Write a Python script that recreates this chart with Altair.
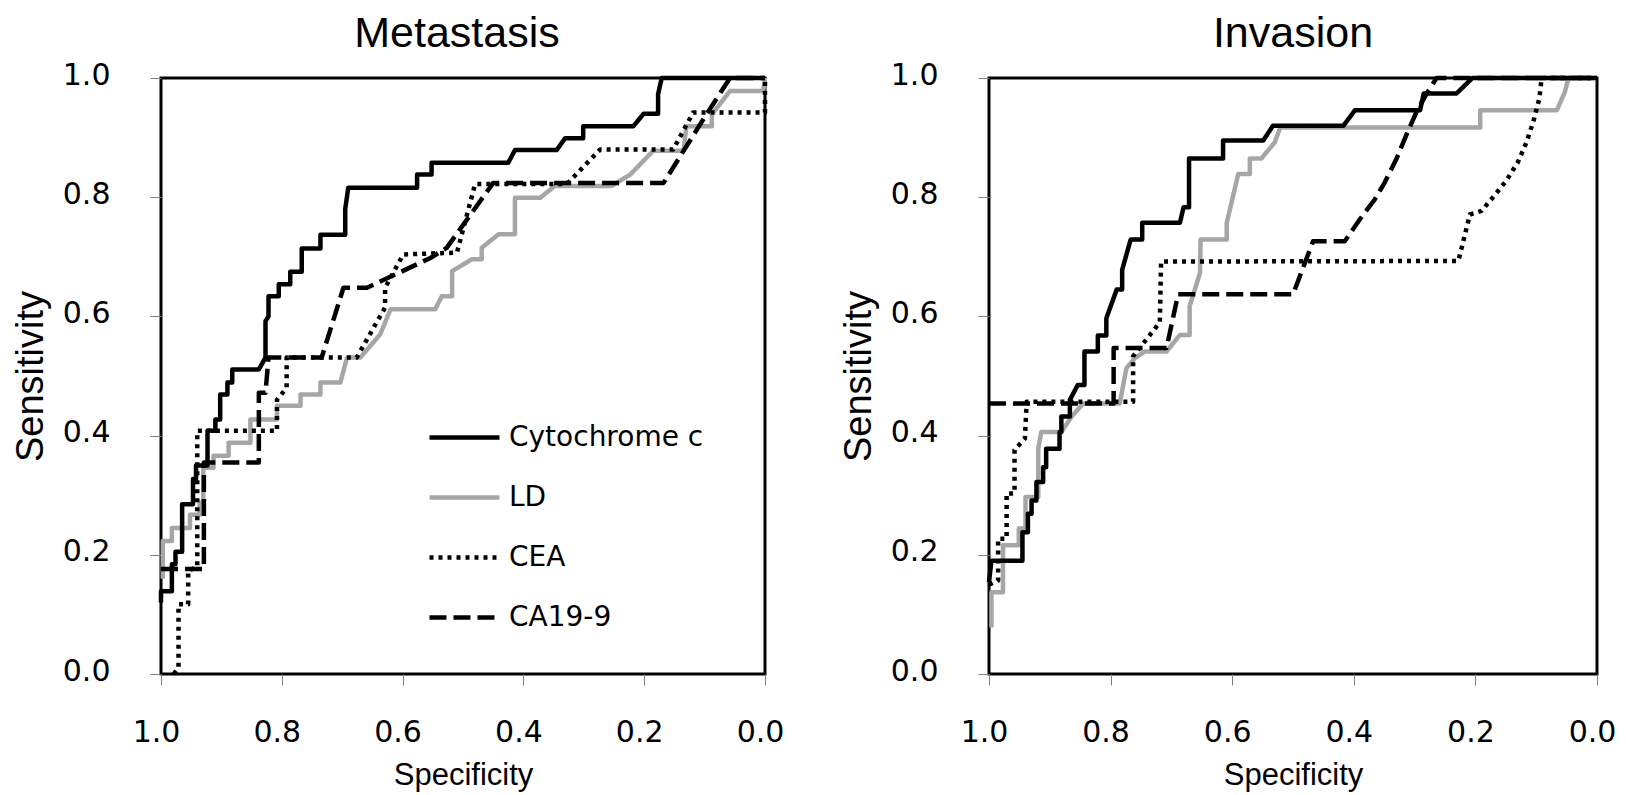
import altair as alt
import pandas as pd

series_names = ["Cytochrome c", "LD", "CEA", "CA19-9"]
draw_order = ["LD", "CA19-9", "CEA", "Cytochrome c"]
tick_values = [0.0, 0.2, 0.4, 0.6, 0.8, 1.0]

# ---------------- Metastasis ----------------
met_cyto_spec = [1.000, 1.000, 0.982, 0.982, 0.976, 0.976, 0.965, 0.965, 0.947, 0.947, 0.942, 0.942, 0.923, 0.923,
                 0.910, 0.910, 0.902, 0.902, 0.890, 0.890, 0.882, 0.882, 0.838, 0.827, 0.827, 0.822, 0.822, 0.805,
                 0.805, 0.786, 0.786, 0.767, 0.767, 0.736, 0.736, 0.695, 0.695, 0.690, 0.576, 0.576, 0.552, 0.552,
                 0.425, 0.414, 0.345, 0.331, 0.301, 0.301, 0.218, 0.201, 0.177, 0.177, 0.171, 0.000]
met_cyto_sens = [0.120, 0.139, 0.139, 0.184, 0.184, 0.205, 0.205, 0.285, 0.285, 0.327, 0.327, 0.350, 0.350, 0.408,
                 0.408, 0.427, 0.427, 0.469, 0.469, 0.489, 0.489, 0.511, 0.511, 0.531, 0.592, 0.600, 0.634, 0.634,
                 0.654, 0.654, 0.675, 0.675, 0.714, 0.714, 0.737, 0.737, 0.780, 0.816, 0.816, 0.838, 0.838, 0.858,
                 0.858, 0.879, 0.879, 0.899, 0.899, 0.919, 0.919, 0.940, 0.940, 0.973, 1.000, 1.000]

met_ld_spec = [0.997, 0.997, 0.982, 0.982, 0.952, 0.952, 0.936, 0.936, 0.930, 0.930, 0.913, 0.913, 0.888, 0.888,
               0.852, 0.852, 0.808, 0.808, 0.769, 0.769, 0.736, 0.736, 0.703, 0.692, 0.670, 0.637, 0.620, 0.546,
               0.535, 0.518, 0.518, 0.485, 0.469, 0.469, 0.441, 0.414, 0.414, 0.372, 0.348, 0.254, 0.223, 0.185,
               0.135, 0.130, 0.088, 0.088, 0.058, 0.003, 0.000]
met_ld_sens = [0.160, 0.223, 0.223, 0.245, 0.245, 0.267, 0.267, 0.287, 0.287, 0.346, 0.346, 0.366, 0.366, 0.388,
               0.388, 0.427, 0.427, 0.450, 0.450, 0.469, 0.469, 0.489, 0.489, 0.531, 0.531, 0.570, 0.612, 0.612,
               0.634, 0.634, 0.676, 0.696, 0.696, 0.715, 0.738, 0.738, 0.799, 0.799, 0.819, 0.819, 0.838, 0.878,
               0.878, 0.919, 0.919, 0.939, 0.978, 0.978, 1.000]

met_cea_spec = [0.979, 0.971, 0.971, 0.955, 0.955, 0.940, 0.940, 0.808, 0.808, 0.792, 0.792, 0.676, 0.629, 0.629,
                0.599, 0.510, 0.480, 0.328, 0.273, 0.152, 0.119, 0.000, 0.000]
met_cea_sens = [0.000, 0.010, 0.117, 0.117, 0.173, 0.180, 0.408, 0.408, 0.460, 0.480, 0.531, 0.531, 0.615, 0.648,
                0.704, 0.707, 0.822, 0.822, 0.880, 0.880, 0.942, 0.942, 1.000]

met_ca_spec = [1.000, 0.929, 0.929, 0.838, 0.838, 0.827, 0.822, 0.734, 0.698, 0.659, 0.554, 0.527, 0.450, 0.168,
               0.097, 0.058, 0.000]
met_ca_sens = [0.176, 0.176, 0.355, 0.355, 0.472, 0.472, 0.531, 0.531, 0.648, 0.648, 0.698, 0.715, 0.824, 0.824,
               0.939, 1.000, 1.000]

# ---------------- Invasion ----------------
inv_cyto_spec = [1.000, 0.996, 0.945, 0.945, 0.936, 0.936, 0.930, 0.930, 0.922, 0.922, 0.911, 0.911, 0.906, 0.906,
                 0.884, 0.884, 0.881, 0.881, 0.867, 0.867, 0.854, 0.843, 0.843, 0.821, 0.821, 0.807, 0.807, 0.790,
                 0.781, 0.781, 0.767, 0.748, 0.748, 0.686, 0.680, 0.671, 0.671, 0.615, 0.615, 0.549, 0.533, 0.417,
                 0.398, 0.291, 0.285, 0.231, 0.205, 0.000]
inv_cyto_sens = [0.154, 0.190, 0.190, 0.238, 0.238, 0.269, 0.269, 0.291, 0.291, 0.322, 0.322, 0.347, 0.347, 0.378,
                 0.378, 0.406, 0.406, 0.432, 0.432, 0.460, 0.485, 0.485, 0.541, 0.541, 0.568, 0.568, 0.597, 0.645,
                 0.645, 0.678, 0.729, 0.729, 0.757, 0.757, 0.783, 0.783, 0.865, 0.865, 0.895, 0.895, 0.920, 0.920,
                 0.946, 0.946, 0.974, 0.974, 1.000, 1.000]

inv_ld_spec = [0.996, 0.996, 0.977, 0.977, 0.951, 0.951, 0.940, 0.940, 0.919, 0.919, 0.914, 0.881, 0.864, 0.845,
               0.785, 0.774, 0.760, 0.744, 0.708, 0.686, 0.670, 0.670, 0.653, 0.652, 0.609, 0.609, 0.590, 0.571,
               0.571, 0.552, 0.530, 0.521, 0.192, 0.192, 0.066, 0.053, 0.047, 0.000]
inv_ld_sens = [0.078, 0.137, 0.137, 0.216, 0.216, 0.244, 0.244, 0.297, 0.297, 0.378, 0.406, 0.406, 0.432, 0.454,
               0.454, 0.513, 0.530, 0.541, 0.541, 0.569, 0.569, 0.617, 0.673, 0.729, 0.729, 0.757, 0.839, 0.839,
               0.865, 0.865, 0.892, 0.917, 0.917, 0.946, 0.946, 0.976, 1.000, 1.000]

inv_cea_spec = [1.000, 0.985, 0.985, 0.971, 0.971, 0.958, 0.958, 0.941, 0.938, 0.763, 0.763, 0.719, 0.717, 0.228,
                0.209, 0.190, 0.171, 0.149, 0.130, 0.116, 0.105, 0.095, 0.091, 0.000]
inv_cea_sens = [0.150, 0.157, 0.227, 0.227, 0.303, 0.303, 0.376, 0.395, 0.457, 0.457, 0.533, 0.590, 0.692, 0.693,
                0.771, 0.777, 0.800, 0.828, 0.859, 0.892, 0.926, 0.965, 1.000, 1.000]

inv_ca_spec = [1.000, 0.795, 0.795, 0.708, 0.689, 0.500, 0.467, 0.415, 0.390, 0.365, 0.349, 0.330, 0.313, 0.297,
               0.280, 0.264, 0.000]
inv_ca_sens = [0.454, 0.454, 0.547, 0.547, 0.637, 0.637, 0.726, 0.726, 0.763, 0.797, 0.825, 0.864, 0.906, 0.943,
               0.974, 1.000, 1.000]


def make_frame(items):
    rows = []
    for name, spec, sens in items:
        for i, (x, y) in enumerate(zip(spec, sens)):
            rows.append({"marker": name, "spec": x, "sens": y, "idx": i})
    return pd.DataFrame(rows)


met_df = make_frame([("Cytochrome c", met_cyto_spec, met_cyto_sens), ("LD", met_ld_spec, met_ld_sens),
                     ("CEA", met_cea_spec, met_cea_sens), ("CA19-9", met_ca_spec, met_ca_sens)])
inv_df = make_frame([("Cytochrome c", inv_cyto_spec, inv_cyto_sens), ("LD", inv_ld_spec, inv_ld_sens),
                     ("CEA", inv_cea_spec, inv_cea_sens), ("CA19-9", inv_ca_spec, inv_ca_sens)])

color_scale = alt.Scale(domain=series_names, range=["#000000", "#a6a6a6", "#000000", "#000000"])
dash_scale = alt.Scale(domain=series_names, range=[[1, 0], [1, 0], [4, 5], [17, 7]])

TICK_FONT = "DejaVu Sans"
TITLE_FONT = "Liberation Sans"


def panel(df, title, width, show_legend, title_dx):
    if show_legend:
        legend = alt.Legend(orient="none", legendX=266, legendY=322, direction="vertical", title=None,
                            symbolType="stroke", symbolSize=4900, symbolStrokeWidth=4.5,
                            labelFont=TICK_FONT, labelFontSize=28, labelColor="black", labelLimit=500,
                            labelOffset=7, rowPadding=8, padding=0)
    else:
        legend = None
    x_axis = alt.Axis(values=tick_values, format=".1f", tickSize=11, tickColor="#808080", tickWidth=1,
                      labelFont=TICK_FONT, labelFontSize=30, labelColor="black", labelPadding=32,
                      labelOffset=-5, labelFlush=False, domain=False, grid=False,
                      title="Specificity", titleFont=TITLE_FONT, titleFontSize=31, titleFontWeight="normal",
                      titleColor="black", titlePadding=13)
    y_axis = alt.Axis(values=tick_values, format=".1f", tickSize=11, tickColor="#808080", tickWidth=1,
                      labelFont=TICK_FONT, labelFontSize=30, labelColor="black", labelPadding=40,
                      labelOffset=-3, labelFlush=False, domain=False, grid=False,
                      title="Sensitivity", titleFont=TITLE_FONT, titleFontSize=38, titleFontWeight="normal",
                      titleColor="black", titlePadding=12)
    base = alt.Chart(df).mark_line(strokeWidth=4.5, strokeJoin="round").encode(
        x=alt.X("spec:Q", scale=alt.Scale(domain=[0, 1], reverse=True, nice=False), axis=x_axis),
        y=alt.Y("sens:Q", scale=alt.Scale(domain=[0, 1], nice=False), axis=y_axis),
        color=alt.Color("marker:N", scale=color_scale, legend=legend),
        strokeDash=alt.StrokeDash("marker:N", scale=dash_scale, legend=legend),
        order=alt.Order("idx:Q"),
    )
    layers = [base.transform_filter(alt.datum.marker == name) for name in draw_order]
    return alt.layer(*layers).properties(
        width=width, height=596,
        title=alt.TitleParams(title, font=TITLE_FONT, fontSize=43, fontWeight="normal", color="black",
                              anchor="middle", frame="group", baseline="alphabetic", offset=-30,
                              dx=title_dx),
    )


left = panel(met_df, "Metastasis", 604, True, -6)
right = panel(inv_df, "Invasion", 608, False, 0)

chart = alt.hconcat(left, right, spacing=224, bounds="flush").resolve_legend(
    color="independent", strokeDash="independent"
).properties(
    padding={"left": 2, "top": 3, "right": 0, "bottom": 0},
    background="white",
).configure_view(
    stroke="black", strokeWidth=3
)

chart.save("out.html", embed_options={"renderer": "svg", "actions": False})
